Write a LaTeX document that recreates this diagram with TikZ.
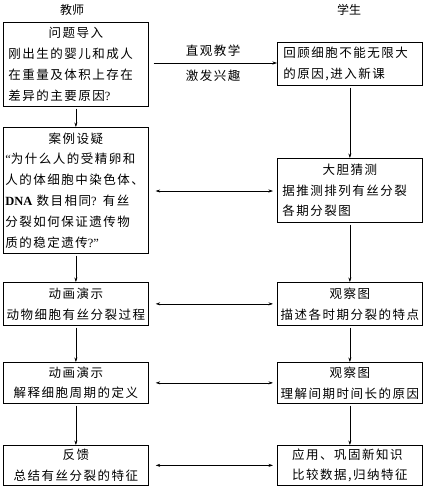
\documentclass[tikz,border=0pt]{standalone}
\usepackage{fontspec}
\usetikzlibrary{arrows.meta}
\newfontfamily\cjk[LetterSpace=12]{Noto Sans CJK SC}
\newfontfamily\cjkh{Noto Sans CJK SC}
\newfontfamily\latq{Liberation Serif}
\begin{document}
\begin{tikzpicture}[x=1pt,y=-1pt,
  every node/.style={font=\cjk\fontsize{12.5}{20.8}\selectfont},
  boxbase/.style={draw, line width=0.7pt, inner xsep=2pt, inner ysep=2pt, anchor=north west},
  leftbox/.style={boxbase, text width=141pt, align=left},
  cbox/.style={boxbase, text width=141pt, align=center},
  lbox/.style={boxbase, minimum width=145pt, align=left},
  head/.style={font=\cjkh\fontsize{12}{14}\selectfont},
  conn/.style={line width=0.5pt, -{Stealth[length=4.5pt,width=3pt]}},
  both/.style={line width=0.5pt, {Stealth[length=4.5pt,width=3pt]}-{Stealth[length=4.5pt,width=3pt]}},
  lab/.style={inner sep=0pt}
]
\useasboundingbox (0,0) rectangle (424,487);

\node[head] (t1) at (72,10) {教师};
\node[head] (t2) at (349,10) {学生};

\node[leftbox, minimum height=84pt] (L1) at (3,22)
 {{\centering 问题导入\par}\hspace{3pt}刚出生的婴儿和成人\\\hspace{3pt}在重量及体积上存在\\\hspace{3pt}差异的主要原因{\latq ?}};
\node[leftbox, minimum height=43pt] (R1) at (277,42)
 {\hspace{4pt}回顾细胞不能无限大\\\hspace{4pt}的原因,进入新课};

\node[leftbox, minimum height=126pt] (L2) at (3,127)
 {{\centering 案例设疑\par}{\latq “}为什么人的受精卵和\\人的体细胞中染色体、\\{\latq\bfseries DNA} 数目相同{\latq ?} 有丝\\分裂如何保证遗传物\\质的稳定遗传{\latq ?”}};
\node[leftbox, minimum height=64pt] (R2) at (277,158)
 {{\centering 大胆猜测\par}\hspace{3pt}据推测排列有丝分裂\\\hspace{3pt}各期分裂图};

\node[cbox, minimum height=43pt] (L3) at (3,282) {动画演示\\动物细胞有丝分裂过程};
\node[cbox, minimum height=43pt] (R3) at (277,282) {观察图\\描述各时期分裂的特点};

\node[cbox, minimum height=41pt] (L4) at (3,362) {动画演示\\解释细胞周期的定义};
\node[cbox, minimum height=41pt] (R4) at (277,362) {观察图\\理解间期时间长的原因};

\node[cbox, minimum height=40pt] (L5) at (3,445) {反馈\\总结有丝分裂的特征};
\node[lbox, minimum height=40pt] (R5) at (277,445) {应用、巩固新知识\\比较数据,归纳特征};

% horizontal
\draw[conn, shorten <=5pt] (L1.east |- 0,63) -- (R1.west |- 0,63);
\node[lab] (n1) at (213,51) {直观教学};
\node[lab] (n2) at (213,76) {激发兴趣};

\draw[both, shorten <=7pt, shorten >=4pt] (L2.east |- 0,191) -- (R2.west |- 0,191);
\draw[both, shorten <=7pt, shorten >=4pt] (L3.east) -- (R3.west);
\draw[both, shorten <=7pt, shorten >=4pt] (L4.east) -- (R4.west);
\draw[both, shorten <=7pt, shorten >=4pt] (L5.east) -- (R5.west);

% vertical
\draw[conn, shorten <=2pt] (L1.south) -- (L2.north);
\draw[conn, shorten <=2pt] (L2.south) -- (L3.north);
\draw[conn, shorten <=2pt] (L3.south) -- (L4.north);
\draw[conn, shorten <=2pt] (L4.south) -- (L5.north);
\draw[conn, shorten <=2pt] (R1.south) -- (R2.north);
\draw[conn, shorten <=2pt] (R2.south) -- (R3.north);
\draw[conn, shorten <=2pt] (R3.south) -- (R4.north);
\draw[conn, shorten <=2pt] (R4.south) -- (R5.north);
\end{tikzpicture}
\end{document}
